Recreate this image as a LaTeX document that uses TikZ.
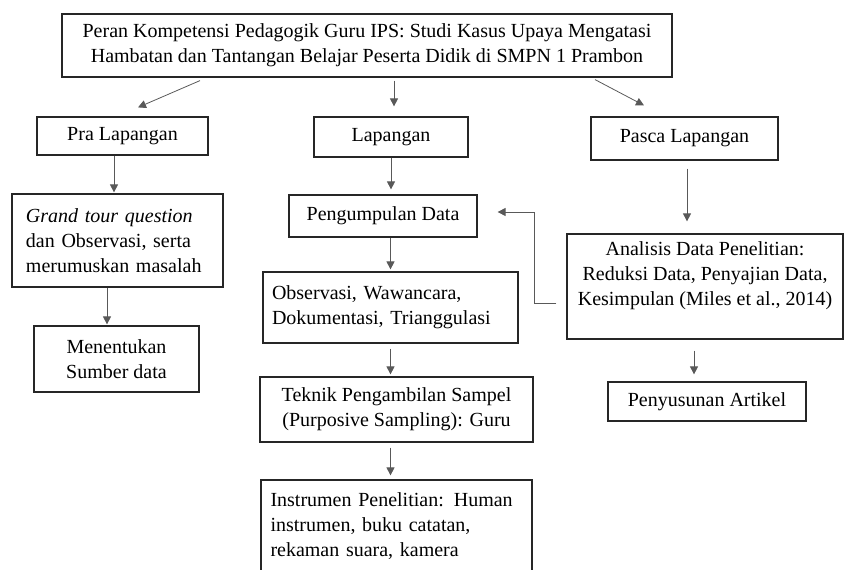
\documentclass[tikz,border=0pt]{standalone}
\usepackage{fontspec}
\setmainfont{Liberation Serif}
\usetikzlibrary{arrows.meta,calc}

\tikzset{
  box/.style={draw=black!85,line width=0.9pt,inner sep=0pt,font=\fontsize{15}{18.75}\selectfont},
  arr/.style={draw=black!65,line width=0.6pt,-{Triangle[length=6pt,width=6pt]}},
}

\begin{document}
\begin{tikzpicture}[x=0.75pt,y=-0.75pt]
\useasboundingbox (0,0) rectangle (845,570);
\clip (0,0) rectangle (845,570);
% judul
\node[box,minimum width=457.5pt,minimum height=47.25pt,align=center] (title) at (367,45.5)
  {Peran Kompetensi Pedagogik Guru IPS: Studi Kasus Upaya Mengatasi\\Hambatan dan Tantangan Belajar Peserta Didik di SMPN 1 Prambon};
% tahap
\node[box,minimum width=128.25pt,minimum height=28.5pt] (pra) at (122.5,136) {Pra Lapangan};
\node[box,minimum width=115.5pt,minimum height=30pt] (lap) at (391,137) {Lapangan};
\node[box,minimum width=140.25pt,minimum height=32.25pt] (pasca) at (684.5,138.5) {Pasca Lapangan};
% pra lapangan
\node[box,minimum width=158.25pt,minimum height=69.75pt,text width=137.25pt,align=left] (grand) at (117.5,240.5)
  {\textit{Grand tour question}\\dan Observasi, serta\\merumuskan masalah};
\node[box,minimum width=123.75pt,minimum height=49.5pt,align=center] (sumber) at (116.5,359) {Menentukan\\Sumber data};
% lapangan
\node[box,minimum width=141pt,minimum height=31.5pt] (kumpul) at (383,216) {Pengumpulan Data};
\node[box,minimum width=191.25pt,minimum height=53.25pt,text width=177.75pt,align=left] (obs) at (390.5,307.5)
  {Observasi, Wawancara,\\Dokumentasi, Trianggulasi};
\node[box,minimum width=204.75pt,minimum height=48.75pt,align=center] (teknik) at (396.5,409.5)
  {Teknik Pengambilan Sampel\\(Purposive Sampling): Guru};
\node[box,minimum width=203.25pt,minimum height=69.75pt,text width=189pt,align=left] (instr) at (396.5,526.5)
  {Instrumen Penelitian: Human\\instrumen, buku catatan,\\rekaman suara, kamera};
% pasca lapangan
\node[box,minimum width=207pt,minimum height=78.75pt,align=center] (analisis) at (705,286.5)
  {Analisis Data Penelitian:\\Reduksi Data, Penyajian Data,\\Kesimpulan (Miles et al., 2014)\\\mbox{}};
\node[box,minimum width=148.5pt,minimum height=29.25pt] (artikel) at (707,401.5) {Penyusunan Artikel};

% panah
\draw[arr] ($(title.south)+(-167,3)$) -- ($(pra.north)+(15.5,-9)$);
\draw[arr] ($(lap.north |- title.south)+(3,3)$) -- ($(lap.north)+(3,-10)$);
\draw[arr] ($(title.south)+(228,2)$) -- ($(pasca.north)+(-40.5,-11)$);
\draw[arr] ($(pra.south)+(-8.5,0)$) -- ($(grand.north)+(-3.5,-1)$);
\draw[arr] ($(grand.south)+(-10.5,0)$) -- ($(sumber.north)+(-9.5,-1)$);
\draw[arr] (lap.south) -- ($(kumpul.north -| lap.south)+(0,-5)$);
\draw[arr] (kumpul.south -| obs.north) -- ($(obs.north)+(0,-2)$);
\draw[arr] ($(obs.south)+(0,5)$) -- ($(teknik.north -| obs.south)+(0,-2)$);
\draw[arr] ($(teknik.south -| obs.south)+(0,5)$) -- ($(instr.north -| obs.south)+(0,-4)$);
\draw[arr] ($(pasca.south)+(2.5,8)$) -- ($(analisis.north -| pasca.south)+(2.5,-12)$);
\draw[arr] ($(analisis.south)+(-11,11)$) -- ($(artikel.north)+(-13,-7)$);
\draw[arr] ($(analisis.west)+(-10,16.5)$) -- ++(-22,0) |- ($(kumpul.east)+(20,-4)$);
\end{tikzpicture}
\end{document}
